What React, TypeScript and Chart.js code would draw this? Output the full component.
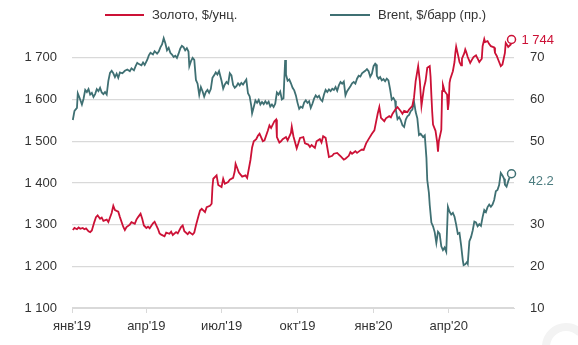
import React, { useEffect, useRef } from "react";
import { Chart, registerables } from "chart.js";

Chart.register(...registerables);

// ---- data ----
const goldDates = [
  "2019-01-02","2019-01-04","2019-01-07","2019-01-09","2019-01-11","2019-01-14","2019-01-16","2019-01-18","2019-01-21","2019-01-23",
  "2019-01-25","2019-01-28","2019-01-30","2019-02-01","2019-02-04","2019-02-06","2019-02-08","2019-02-12","2019-02-14","2019-02-18",
  "2019-02-20","2019-02-22","2019-02-26","2019-02-28","2019-03-04","2019-03-06","2019-03-08","2019-03-12","2019-03-14","2019-03-18",
  "2019-03-20","2019-03-22","2019-03-25","2019-03-27","2019-03-29","2019-04-01","2019-04-03","2019-04-05","2019-04-09","2019-04-11",
  "2019-04-15","2019-04-17","2019-04-19","2019-04-23","2019-04-25","2019-04-29","2019-05-01","2019-05-03","2019-05-07","2019-05-09",
  "2019-05-13","2019-05-15","2019-05-17","2019-05-21","2019-05-23","2019-05-27","2019-05-29","2019-05-31","2019-06-03","2019-06-05",
  "2019-06-07","2019-06-11","2019-06-13","2019-06-17","2019-06-19","2019-06-20","2019-06-21","2019-06-25","2019-06-27","2019-07-01",
  "2019-07-03","2019-07-05","2019-07-09","2019-07-11","2019-07-15","2019-07-17","2019-07-18","2019-07-22","2019-07-24","2019-07-26",
  "2019-07-30","2019-08-01","2019-08-05","2019-08-07","2019-08-09","2019-08-12","2019-08-14","2019-08-16","2019-08-20","2019-08-22",
  "2019-08-26","2019-08-28","2019-08-30","2019-09-03","2019-09-05","2019-09-06","2019-09-09","2019-09-11","2019-09-13","2019-09-17",
  "2019-09-19","2019-09-23","2019-09-24","2019-09-26","2019-09-30","2019-10-02","2019-10-04","2019-10-08","2019-10-10","2019-10-14",
  "2019-10-16","2019-10-18","2019-10-22","2019-10-24","2019-10-28","2019-10-30","2019-11-01","2019-11-04","2019-11-06","2019-11-08",
  "2019-11-12","2019-11-14","2019-11-18","2019-11-20","2019-11-22","2019-11-26","2019-11-28","2019-12-02","2019-12-04","2019-12-06",
  "2019-12-10","2019-12-12","2019-12-16","2019-12-18","2019-12-20","2019-12-23","2019-12-26","2019-12-30","2020-01-02","2020-01-06",
  "2020-01-08","2020-01-10","2020-01-14","2020-01-16","2020-01-20","2020-01-22","2020-01-24","2020-01-28","2020-01-30","2020-02-03",
  "2020-02-05","2020-02-07","2020-02-11","2020-02-13","2020-02-17","2020-02-19","2020-02-21","2020-02-24","2020-02-26","2020-02-28",
  "2020-03-02","2020-03-04","2020-03-06","2020-03-09","2020-03-10","2020-03-11","2020-03-12","2020-03-13","2020-03-16","2020-03-18",
  "2020-03-19","2020-03-20","2020-03-23","2020-03-24","2020-03-25","2020-03-26","2020-03-27","2020-03-30","2020-03-31","2020-04-01",
  "2020-04-02","2020-04-03","2020-04-06","2020-04-08","2020-04-09","2020-04-10","2020-04-13","2020-04-14","2020-04-16","2020-04-17",
  "2020-04-20","2020-04-21","2020-04-22","2020-04-24","2020-04-27","2020-04-29","2020-05-01","2020-05-04","2020-05-06","2020-05-08",
  "2020-05-11","2020-05-12","2020-05-14","2020-05-15","2020-05-18","2020-05-20","2020-05-22","2020-05-26","2020-05-27","2020-05-29",
  "2020-06-01","2020-06-03","2020-06-05","2020-06-08","2020-06-09","2020-06-11","2020-06-12","2020-06-15","2020-06-16"
];
const goldValues = [
  1287,1292,1289,1293,1290,1292,1289,1291,1284,1282,
  1286,1306,1318,1322,1314,1317,1309,1312,1306,1328,
  1345,1335,1331,1318,1295,1287,1294,1300,1306,1302,
  1312,1318,1326,1314,1298,1292,1295,1291,1303,1307,
  1290,1279,1276,1272,1281,1278,1283,1275,1282,1279,
  1294,1298,1284,1277,1282,1276,1281,1298,1320,1334,
  1338,1330,1342,1345,1350,1390,1410,1418,1395,1390,
  1410,1398,1402,1408,1412,1428,1446,1425,1420,1415,
  1418,1412,1455,1485,1500,1505,1513,1518,1500,1502,
  1525,1538,1532,1548,1552,1510,1497,1500,1505,1510,
  1502,1520,1535,1512,1483,1495,1508,1510,1495,1492,
  1486,1491,1484,1500,1505,1497,1512,1508,1485,1462,
  1465,1470,1472,1468,1464,1456,1458,1465,1474,1470,
  1476,1472,1478,1480,1479,1495,1505,1518,1526,1566,
  1582,1556,1548,1555,1560,1557,1566,1578,1582,1572,
  1566,1573,1570,1576,1585,1605,1645,1680,1645,1585,
  1628,1645,1676,1680,1655,1610,1570,1540,1525,1498,
  1475,1500,1527,1620,1635,1628,1620,1612,1575,1592,
  1640,1650,1668,1690,1712,1727,1700,1690,1682,1698,
  1712,1720,1715,1702,1688,1695,1702,1706,1698,1690,
  1698,1728,1745,1738,1740,1733,1728,1725,1712,1705,
  1690,1680,1684,1712,1736,1730,1726,1732,1744
];

const brentDates = [
  "2019-01-02","2019-01-04","2019-01-07","2019-01-08","2019-01-10","2019-01-13","2019-01-15","2019-01-17","2019-01-19","2019-01-21",
  "2019-01-23","2019-01-25","2019-01-27","2019-01-29","2019-01-31","2019-02-02","2019-02-04","2019-02-06","2019-02-08","2019-02-10",
  "2019-02-12","2019-02-14","2019-02-16","2019-02-18","2019-02-20","2019-02-22","2019-02-24","2019-02-26","2019-02-28","2019-03-03",
  "2019-03-06","2019-03-09","2019-03-12","2019-03-14","2019-03-17","2019-03-19","2019-03-21","2019-03-23","2019-03-26","2019-03-28",
  "2019-03-30","2019-04-02","2019-04-04","2019-04-06","2019-04-09","2019-04-11","2019-04-14","2019-04-16","2019-04-18","2019-04-20",
  "2019-04-22","2019-04-24","2019-04-26","2019-04-28","2019-04-30","2019-05-02","2019-05-04","2019-05-06","2019-05-08","2019-05-10",
  "2019-05-12","2019-05-14","2019-05-16","2019-05-18","2019-05-20","2019-05-22","2019-05-23","2019-05-25","2019-05-27","2019-05-29",
  "2019-05-31","2019-06-02","2019-06-04","2019-06-06","2019-06-08","2019-06-10","2019-06-12","2019-06-14","2019-06-16","2019-06-18",
  "2019-06-20","2019-06-22","2019-06-24","2019-06-26","2019-06-28","2019-07-01","2019-07-03","2019-07-05","2019-07-07","2019-07-09",
  "2019-07-11","2019-07-13","2019-07-15","2019-07-17","2019-07-19","2019-07-21","2019-07-23","2019-07-25","2019-07-27","2019-07-29",
  "2019-07-31","2019-08-02","2019-08-04","2019-08-06","2019-08-07","2019-08-09","2019-08-11","2019-08-13","2019-08-15","2019-08-17",
  "2019-08-19","2019-08-21","2019-08-23","2019-08-25","2019-08-27","2019-08-29","2019-08-31","2019-09-02","2019-09-04","2019-09-06",
  "2019-09-08","2019-09-10","2019-09-12","2019-09-14","2019-09-16","2019-09-17","2019-09-19","2019-09-21","2019-09-23","2019-09-25",
  "2019-09-27","2019-09-29","2019-10-01","2019-10-03","2019-10-05","2019-10-07","2019-10-09","2019-10-11","2019-10-13","2019-10-15",
  "2019-10-17","2019-10-19","2019-10-21","2019-10-23","2019-10-25","2019-10-27","2019-10-29","2019-10-31","2019-11-02","2019-11-04",
  "2019-11-06","2019-11-08","2019-11-10","2019-11-12","2019-11-14","2019-11-16","2019-11-18","2019-11-20","2019-11-22","2019-11-24",
  "2019-11-26","2019-11-28","2019-11-30","2019-12-02","2019-12-04","2019-12-06","2019-12-08","2019-12-10","2019-12-12","2019-12-14",
  "2019-12-16","2019-12-18","2019-12-20","2019-12-22","2019-12-24","2019-12-26","2019-12-28","2019-12-30","2020-01-01","2020-01-03",
  "2020-01-04","2020-01-05","2020-01-07","2020-01-09","2020-01-11","2020-01-13","2020-01-15","2020-01-17","2020-01-19","2020-01-21",
  "2020-01-23","2020-01-25","2020-01-27","2020-01-28","2020-01-30","2020-02-01","2020-02-03","2020-02-05","2020-02-07","2020-02-09",
  "2020-02-11","2020-02-13","2020-02-15","2020-02-17","2020-02-19","2020-02-21","2020-02-23","2020-02-25","2020-02-27","2020-03-01",
  "2020-03-03","2020-03-05","2020-03-06","2020-03-08","2020-03-09","2020-03-11","2020-03-13","2020-03-15","2020-03-17","2020-03-19",
  "2020-03-21","2020-03-23","2020-03-25","2020-03-27","2020-03-29","2020-03-31","2020-04-02","2020-04-04","2020-04-06","2020-04-08",
  "2020-04-10","2020-04-12","2020-04-14","2020-04-16","2020-04-18","2020-04-19","2020-04-21","2020-04-23","2020-04-24","2020-04-26",
  "2020-04-28","2020-04-30","2020-05-02","2020-05-04","2020-05-06","2020-05-08","2020-05-10","2020-05-12","2020-05-14","2020-05-16",
  "2020-05-18","2020-05-20","2020-05-22","2020-05-24","2020-05-26","2020-05-28","2020-05-30","2020-06-01","2020-06-03","2020-06-05",
  "2020-06-07","2020-06-08","2020-06-10","2020-06-12","2020-06-14","2020-06-16"
];
const brentValues = [
  55.1,57.3,58.0,61.5,60.5,58.8,60.2,62.3,61.8,62.5,
  61.2,61.6,60.6,61.3,62.5,62.0,62.8,61.7,61.3,61.8,
  61.2,64.5,66.4,66.9,66.3,65.4,66.2,65.2,66.5,66.3,
  66.9,67.2,66.8,67.5,67.0,68.0,68.8,68.5,68.2,68.9,
  68.3,69.5,70.6,71.2,70.8,71.6,71.0,71.5,72.5,73.2,
  74.7,73.5,71.8,72.4,71.2,70.8,70.2,70.5,70.0,71.0,
  72.2,72.9,72.6,71.8,72.3,71.5,68.0,69.2,70.0,69.5,
  64.7,63.8,61.1,63.0,62.0,60.7,61.8,62.3,61.6,62.5,
  65.2,65.8,66.5,66.0,66.8,64.5,62.6,63.6,64.2,63.8,
  66.3,65.8,63.5,62.8,63.2,63.9,63.4,64.0,63.6,64.2,
  64.8,61.5,60.8,58.5,56.7,58.2,59.8,59.2,59.9,58.8,
  59.4,58.9,59.6,59.0,59.5,58.3,58.8,58.2,59.0,61.7,
  61.2,61.9,60.0,60.3,69.5,66.0,64.5,64.8,63.9,62.8,
  62.2,61.0,59.2,57.8,58.3,58.0,59.3,59.8,59.2,59.6,
  58.0,59.0,60.2,61.0,60.5,60.9,60.0,59.6,61.2,62.3,
  61.8,62.4,62.0,62.6,62.3,63.0,62.1,63.4,64.2,63.8,
  64.3,61.0,62.0,62.6,63.2,63.9,64.2,63.8,65.0,65.7,
  65.5,66.3,66.6,66.9,67.3,66.8,65.5,66.2,68.0,68.6,
  68.4,65.7,65.0,65.4,64.6,64.9,64.4,65.0,64.6,62.5,
  60.0,60.4,59.7,57.5,55.3,55.8,55.0,53.8,53.4,55.2,
  56.0,56.3,57.2,57.6,59.5,57.0,55.5,51.5,51.8,51.0,
  51.4,46.0,40.7,37.6,34.7,30.5,29.6,28.2,25.6,28.3,
  27.8,24.8,23.9,24.5,23.5,34.3,33.1,32.4,32.8,31.9,
  30.0,27.8,28.0,25.0,21.5,20.3,20.5,21.0,20.6,26.0,
  27.0,28.6,30.7,30.5,29.6,30.1,29.7,31.8,33.5,33.0,
  34.2,34.8,34.3,34.8,35.9,38.0,38.3,39.5,42.4,41.8,
  41.0,39.6,39.1,40.4,41.5,42.2
];

const xTickDates = ["2019-01-01", "2019-04-01", "2019-07-01", "2019-10-01", "2020-01-01", "2020-04-01"];
const xTickLabels = ["янв'19", "апр'19", "июл'19", "окт'19", "янв'20", "апр'20"];
const rightHiddenTicks = [40];
const goldLabel = "Золото, $/унц.";
const brentLabel = "Brent, $/барр (пр.)";
const goldLastLabel = "1 744";
const brentLastLabel = "42.2";

const GOLD = "#cc1136";
const BRENT = "#3f7073";
const TEXT = "#333333";
const GRID = "#d9d9d9";
const FONT_FAMILY = '"Liberation Sans", Arial, sans-serif';

const BASE = Date.parse("2019-01-01T00:00:00Z");
const dayOf = (s: string) => Math.round((Date.parse(s + "T00:00:00Z") - BASE) / 86400000);
const fmtThousands = (v: number) => {
  const s = String(Math.round(v));
  return s.replace(/\B(?=(\d{3})+(?!\d))/g, " ");
};

export default function App() {
  const ref = useRef<HTMLCanvasElement | null>(null);

  useEffect(() => {
    document.body.style.margin = "0";
    const canvas = ref.current;
    if (!canvas) return;

    const goldData = goldDates.map((d, i) => ({ x: dayOf(d), y: goldValues[i] }));
    const brentData = brentDates.map((d, i) => ({ x: dayOf(d), y: brentValues[i] }));
    const xTicks = xTickDates.map(dayOf);

    const lastRadius = (n: number) => (ctx: any) => (ctx.dataIndex === n - 1 ? 4 : 0);

    const legendPlugin = {
      id: "customLegend",
      afterDraw(chart: any) {
        const ctx = chart.ctx;
        ctx.save();
        ctx.font = `13px ${FONT_FAMILY}`;
        ctx.textBaseline = "middle";
        ctx.textAlign = "left";
        const y = 15;
        const items = [
          { x1: 105, x2: 144, tx: 152, color: GOLD, text: goldLabel },
          { x1: 330, x2: 370, tx: 378, color: BRENT, text: brentLabel },
        ];
        for (const it of items) {
          ctx.strokeStyle = it.color;
          ctx.lineWidth = 2;
          ctx.beginPath();
          ctx.moveTo(it.x1, y);
          ctx.lineTo(it.x2, y);
          ctx.stroke();
          ctx.fillStyle = TEXT;
          ctx.fillText(it.text, it.tx, y);
        }
        ctx.restore();
      },
    };

    const endLabelPlugin = {
      id: "endLabels",
      afterDatasetsDraw(chart: any) {
        const ctx = chart.ctx;
        ctx.save();
        ctx.font = `13px ${FONT_FAMILY}`;
        ctx.textBaseline = "middle";
        ctx.textAlign = "left";
        const gm = chart.getDatasetMeta(0).data;
        const bm = chart.getDatasetMeta(1).data;
        const gp = gm[gm.length - 1];
        const bp = bm[bm.length - 1];
        ctx.fillStyle = GOLD;
        ctx.fillText(goldLastLabel, gp.x + 10, gp.y + 1);
        ctx.fillStyle = "#4d7d80";
        ctx.fillText(brentLastLabel, bp.x + 17, bp.y + 8);
        ctx.restore();
      },
    };

    const watermarkPlugin = {
      id: "watermark",
      afterDraw(chart: any) {
        const ctx = chart.ctx;
        ctx.save();
        ctx.strokeStyle = "#f3f3f3";
        ctx.lineWidth = 8;
        ctx.beginPath();
        ctx.arc(566, 347, 20, Math.PI * 1.0, Math.PI * 1.75);
        ctx.stroke();
        ctx.restore();
      },
    };

    const chart = new Chart(canvas, {
      type: "line",
      data: {
        datasets: [
          {
            label: goldLabel,
            data: goldData,
            yAxisID: "y",
            borderColor: GOLD,
            borderWidth: 1.8,
            pointRadius: lastRadius(goldData.length),
            pointBackgroundColor: "#ffffff",
            pointBorderColor: GOLD,
            pointBorderWidth: 1.5,
            tension: 0,
            clip: false,
          },
          {
            label: brentLabel,
            data: brentData,
            yAxisID: "y1",
            borderColor: BRENT,
            borderWidth: 1.8,
            pointRadius: lastRadius(brentData.length),
            pointBackgroundColor: "#ffffff",
            pointBorderColor: BRENT,
            pointBorderWidth: 1.5,
            tension: 0,
            clip: false,
          },
        ],
      },
      options: {
        responsive: false,
        animation: false,
        events: [],
        layout: { padding: { top: 37, left: 0, right: 0, bottom: 0 } },
        plugins: {
          legend: { display: false },
          tooltip: { enabled: false },
          title: { display: false },
        },
        scales: {
          x: {
            type: "linear",
            min: 0,
            max: 535,
            afterBuildTicks: (s: any) => {
              s.ticks = xTicks.map((v) => ({ value: v }));
            },
            afterFit: (s: any) => {
              s.height = 37;
            },
            ticks: {
              autoSkip: false,
              maxRotation: 0,
              padding: 6,
              color: TEXT,
              font: { family: FONT_FAMILY, size: 13 },
              callback: (_v: any, i: number) => xTickLabels[i],
            },
            grid: { drawOnChartArea: false, drawTicks: true, tickLength: 5, color: GRID },
            border: { color: GRID, width: 1 },
          },
          y: {
            position: "left",
            min: 1100,
            max: 1750,
            afterFit: (s: any) => {
              s.width = 72;
            },
            ticks: {
              stepSize: 100,
              includeBounds: false,
              padding: 15,
              color: TEXT,
              font: { family: FONT_FAMILY, size: 13 },
              callback: (v: any) => fmtThousands(Number(v)),
            },
            grid: { color: GRID, lineWidth: 1.2, drawTicks: false },
            border: { display: false },
          },
          y1: {
            position: "right",
            min: 10,
            max: 75,
            afterFit: (s: any) => {
              s.width = 64;
            },
            ticks: {
              stepSize: 10,
              includeBounds: false,
              padding: 16,
              color: TEXT,
              font: { family: FONT_FAMILY, size: 13 },
              callback: (v: any) => (rightHiddenTicks.includes(Number(v)) ? "" : String(v)),
            },
            grid: { display: false, drawTicks: false },
            border: { display: false },
          },
        },
      },
      plugins: [legendPlugin, endLabelPlugin, watermarkPlugin],
    } as any);

    return () => chart.destroy();
  }, []);

  return (
    <div style={{ position: "absolute", left: 0, top: 0, width: 578, height: 345, background: "#ffffff" }}>
      <canvas ref={ref} width={578} height={345} style={{ display: "block" }} />
    </div>
  );
}
